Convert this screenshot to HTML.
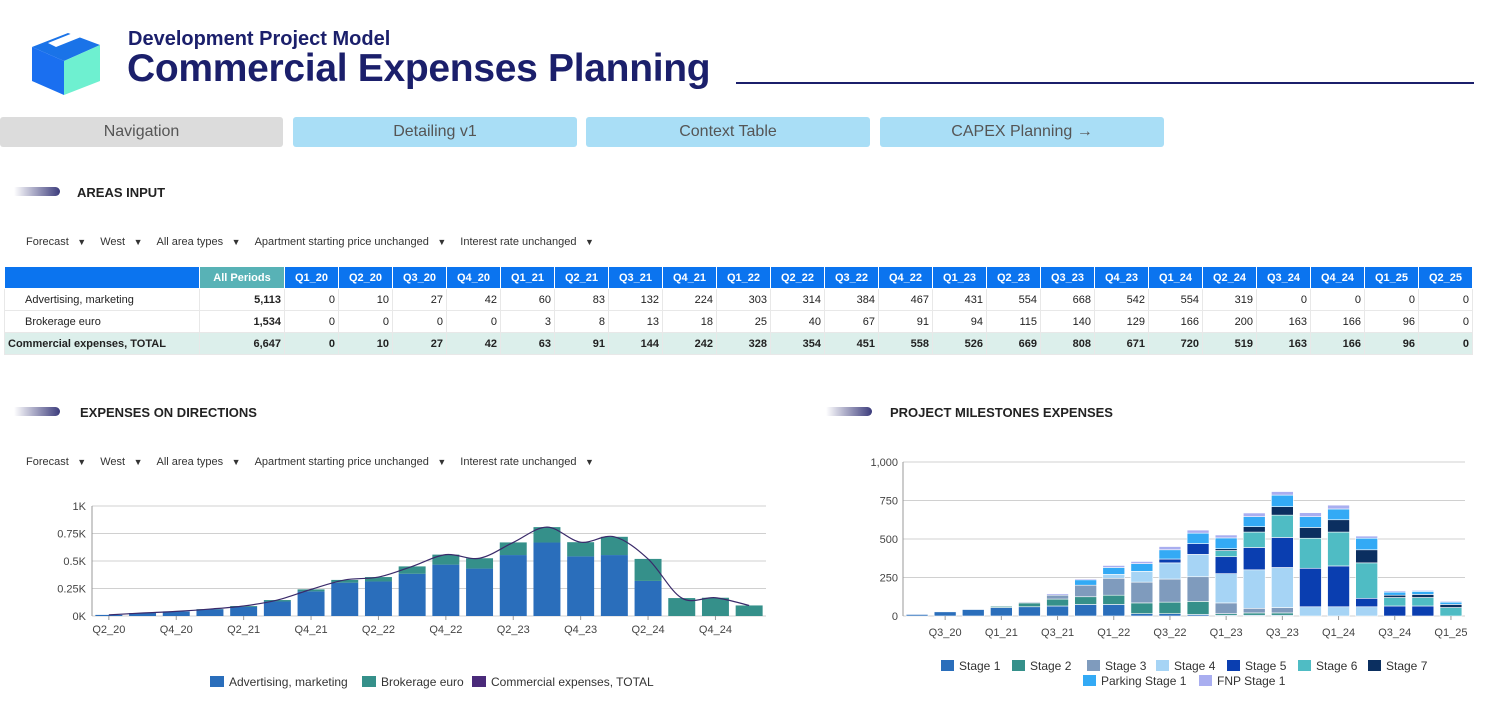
<!DOCTYPE html>
<html><head><meta charset="utf-8">
<style>
*{box-sizing:border-box;margin:0;padding:0}
body{width:1493px;height:713px;background:#fff;font-family:"Liberation Sans",sans-serif;position:relative;overflow:hidden;color:#222}
.abs{position:absolute}
.btn{position:absolute;top:117px;height:30px;border-radius:3px;background:#a9def6;color:#555;font-size:16px;text-align:center;line-height:30px}
.sec{position:absolute;font-weight:bold;font-size:13px;color:#222}
.pill{position:absolute;height:9px;width:46px;border-radius:0 5px 5px 0;background:linear-gradient(90deg,rgba(60,60,120,0),#3c3c7c)}
.flt{position:absolute;font-size:11px;color:#333;white-space:nowrap}
.flt span{margin-right:14px}
.flt span:after{content:" \25BC";font-size:9px;margin-left:6px}
table{position:absolute;left:4px;top:266px;border-collapse:collapse;font-size:11px;table-layout:fixed}
td,th{height:22px;border:1px solid #e8e8e8;text-align:right;padding:0 3px;overflow:hidden;white-space:nowrap}
th{background:#0b74ef;color:#fff;font-weight:bold;text-align:center;border-color:#fff}
th.ap{background:#58b2b6}
tr.tot td{background:#dcefeb;font-weight:bold}
td.lab{text-align:left}
</style></head><body>
<svg class="abs" style="left:28px;top:25px" width="76" height="72">
<polygon points="4,22 40,8 72,20 36,36" fill="#1a73e8"/>
<polygon points="4,22 36,36 36,70 4,56" fill="#1a6ff0"/>
<polygon points="36,36 72,20 72,56 36,70" fill="#6ef0d0"/>
<polygon points="20,18 50,6 58,10 28,22" fill="#fff"/>
</svg>
<div class="abs" style="left:128px;top:28px;font-size:20px;font-weight:bold;color:#1b1f6b">Development Project Model</div>
<div class="abs" style="left:127px;top:47px;font-size:39px;font-weight:bold;color:#1b1f6b;letter-spacing:-0.3px">Commercial Expenses Planning</div>
<div class="abs" style="left:736px;top:82px;width:738px;height:2px;background:#1b1f6b"></div>

<div class="btn" style="left:0;width:283px;background:#dcdcdc">Navigation</div>
<div class="btn" style="left:293px;width:284px">Detailing v1</div>
<div class="btn" style="left:586px;width:284px">Context Table</div>
<div class="btn" style="left:880px;width:284px">CAPEX Planning →</div>

<div class="pill" style="left:14px;top:187px"></div>
<div class="sec" style="left:77px;top:185px">AREAS INPUT</div>
<div class="flt" style="left:26px;top:236px"><span>Forecast</span><span>West</span><span>All area types</span><span>Apartment starting price unchanged</span><span>Interest rate unchanged</span></div>

<table id="tbl"></table>

<div class="pill" style="left:14px;top:407px"></div>
<div class="sec" style="left:80px;top:405px">EXPENSES ON DIRECTIONS</div>
<div class="flt" style="left:26px;top:456px"><span>Forecast</span><span>West</span><span>All area types</span><span>Apartment starting price unchanged</span><span>Interest rate unchanged</span></div>
<div class="pill" style="left:826px;top:407px"></div>
<div class="sec" style="left:890px;top:405px">PROJECT MILESTONES EXPENSES</div>

<svg id="left" class="abs" style="left:0;top:490px" width="780" height="210"></svg>
<svg id="right" class="abs" style="left:840px;top:450px" width="650" height="260"></svg>

<script>
const quarters=["Q1_20","Q2_20","Q3_20","Q4_20","Q1_21","Q2_21","Q3_21","Q4_21","Q1_22","Q2_22","Q3_22","Q4_22","Q1_23","Q2_23","Q3_23","Q4_23","Q1_24","Q2_24","Q3_24","Q4_24","Q1_25","Q2_25"];
const adv=[0,10,27,42,60,83,132,224,303,314,384,467,431,554,668,542,554,319,0,0,0,0];
const brok=[0,0,0,0,3,8,13,18,25,40,67,91,94,115,140,129,166,200,163,166,96,0];
const tot=[0,10,27,42,63,91,144,242,328,354,451,558,526,669,808,671,720,519,163,166,96,0];
const allAdv="5,113", allBrok="1,534", allTot="6,647";

const tbl=document.getElementById('tbl');
let h='<colgroup><col style="width:195px"><col style="width:85px">'+quarters.map(()=>'<col style="width:54px">').join('')+'</colgroup>';
h+='<tr><th></th><th class="ap">All Periods</th>'+quarters.map(q=>'<th>'+q+'</th>').join('')+'</tr>';
const fmt=v=>v.toLocaleString('en-US');
h+='<tr><td class="lab" style="padding-left:20px">Advertising, marketing</td><td><b>'+allAdv+'</b></td>'+adv.map(v=>'<td>'+fmt(v)+'</td>').join('')+'</tr>';
h+='<tr><td class="lab" style="padding-left:20px">Brokerage euro</td><td><b>'+allBrok+'</b></td>'+brok.map(v=>'<td>'+fmt(v)+'</td>').join('')+'</tr>';
h+='<tr class="tot"><td class="lab">Commercial expenses, TOTAL</td><td>'+allTot+'</td>'+tot.map(v=>'<td>'+fmt(v)+'</td>').join('')+'</tr>';
tbl.innerHTML=h;

const NS='http://www.w3.org/2000/svg';
function mk(svg,tag,at,txt){const e=document.createElementNS(NS,tag);for(const k in at)e.setAttribute(k,at[k]);if(txt!==undefined)e.textContent=txt;svg.appendChild(e);return e;}

const lCats=quarters.slice(1,21);
const lAdv=adv.slice(1,21), lBrok=brok.slice(1,21);
const lTicks=[0,250,500,750,1000], lTickLab=["0K","0.25K","0.5K","0.75K","1K"];
{
const s=document.getElementById('left');
const x0=92,x1=766,y0=126,y1=16,max=1000;
const step=(x1-x0)/lCats.length, bw=step*0.8;
const X=i=>x0+step*(i+0.5), Y=v=>y0-(v/max)*(y0-y1);
lTicks.forEach((t,i)=>{
 const g=mk(s,'line',{x1:x0,x2:x1,y1:Y(t),y2:Y(t),stroke:'#d0d0d0'});
 
 const l=mk(s,'text',{x:x0-6,y:Y(t)+4,'text-anchor':'end','font-size':11,fill:'#444'},lTickLab[i]);
 
});
mk(s,'line',{x1:x0,x2:x0,y1:y1,y2:y0,stroke:'#999'});
lCats.forEach((c,i)=>{
 const a=mk(s,'rect',{x:X(i)-bw/2,y:Y(lAdv[i]),width:bw,height:Y(0)-Y(lAdv[i]),fill:'#2a6ebb'});
 
 const b=mk(s,'rect',{x:X(i)-bw/2,y:Y(lAdv[i]+lBrok[i]),width:bw,height:Y(0)-Y(lBrok[i]),fill:'#35908a'});
 
 if(i%2===0){mk(s,'line',{x1:X(i),x2:X(i),y1:y0,y2:y0+4,stroke:'#999'});
  const t=mk(s,'text',{x:X(i),y:y0+17,'text-anchor':'middle','font-size':11,fill:'#444'},c);
  }
});
const pts=lCats.map((c,i)=>[X(i),Y(lAdv[i]+lBrok[i])]);
let d='M'+pts[0][0]+','+pts[0][1];
for(let i=0;i<pts.length-1;i++){const p0=pts[Math.max(0,i-1)],p1=pts[i],p2=pts[i+1],p3=pts[Math.min(pts.length-1,i+2)];
 d+=' C'+(p1[0]+(p2[0]-p0[0])/6)+','+(p1[1]+(p2[1]-p0[1])/6)+' '+(p2[0]-(p3[0]-p1[0])/6)+','+(p2[1]-(p3[1]-p1[1])/6)+' '+p2[0]+','+p2[1];}
const ln=mk(s,'path',{d:d,fill:'none',stroke:'#3a2a6a','stroke-width':1.2});

const leg=[["Advertising, marketing","#2a6ebb",210],["Brokerage euro","#35908a",362],["Commercial expenses, TOTAL","#4a2a7a",472]];
leg.forEach(l=>{const g=mk(s,'g',{});
 mk(g,'rect',{x:l[2],y:186,width:14,height:11,fill:l[1]});mk(g,'text',{x:l[2]+19,y:196,'font-size':12,fill:'#333'},l[0]);});
}

const rCats=quarters.slice(1,21);
const stageNames=["Stage 1","Stage 2","Stage 3","Stage 4","Stage 5","Stage 6","Stage 7","Parking Stage 1","FNP Stage 1"];
const stageColors=["#2a6ebb","#35908a","#7f9bbd","#a6d4f5","#0a3eb0","#4fbcc4","#0b2f60","#33aaf5","#a9aef0"];
const s1=[10,27,42,55,60,65,75,75,15,15,10,5,5,5,0,0,0,0,0,0];
const s2=[0,0,0,8,25,45,50,60,70,75,85,10,15,15,0,0,0,0,0,0];
const s3=[0,0,0,0,6,25,75,110,135,150,160,70,30,35,0,0,0,0,0,0];
const s4=[0,0,0,0,0,0,0,25,70,105,145,190,250,260,60,60,60,0,0,0];
const s5=[0,0,0,0,0,0,0,0,0,25,70,110,145,195,250,265,55,65,65,0];
const s6=[0,0,0,0,0,0,0,0,0,0,0,40,100,145,195,220,230,55,55,55];
const s7=[0,0,0,0,0,0,0,0,0,0,0,12,35,55,70,80,85,15,20,20];
const park=[0,0,0,0,0,0,35,45,50,60,68,70,65,75,70,70,75,20,20,15];
const fnp=[0,0,0,0,0,9,7,13,14,21,20,19,24,23,26,25,14,8,6,6];
const series=[s1,s2,s3,s4,s5,s6,s7,park,fnp];
const rTicks=[0,250,500,750,1000], rTickLab=["0","250","500","750","1,000"];
{
const s=document.getElementById('right');
const x0=63,x1=625,y0=166,y1=12,max=1000;
const step=(x1-x0)/rCats.length,bw=step*0.78;
const X=i=>x0+step*(i+0.5),Y=v=>y0-(v/max)*(y0-y1);
rTicks.forEach((t,i)=>{mk(s,'line',{x1:x0,x2:x1,y1:Y(t),y2:Y(t),stroke:'#d0d0d0'});
 const l=mk(s,'text',{x:x0-5,y:Y(t)+4,'text-anchor':'end','font-size':11,fill:'#444'},rTickLab[i]);
 });
mk(s,'line',{x1:x0,x2:x0,y1:y1,y2:y0,stroke:'#999'});
rCats.forEach((c,i)=>{let acc=0;
 series.forEach((ser,k)=>{const v=ser[i];if(v>0){const r=mk(s,'rect',{x:X(i)-bw/2,y:Y(acc+v),width:bw,height:Y(acc)-Y(acc+v),fill:stageColors[k],stroke:'#fff','stroke-width':0.6});
  }acc+=v;});
 if(i%2===1){mk(s,'line',{x1:X(i),x2:X(i),y1:y0,y2:y0+4,stroke:'#999'});
  const t=mk(s,'text',{x:X(i),y:y0+20,'text-anchor':'middle','font-size':11,fill:'#444'},c);
  }
});
const pos=[[101,219],[172,219],[247,219],[316,219],[387,219],[458,219],[528,219],[243,234],[359,234]];
stageNames.forEach((n,k)=>{const g=mk(s,'g',{});
 mk(g,'rect',{x:pos[k][0],y:pos[k][1]-9,width:13,height:11,fill:stageColors[k]});
 mk(g,'text',{x:pos[k][0]+18,y:pos[k][1]+1,'font-size':12,fill:'#333'},n);});
}
</script>
</body></html>
